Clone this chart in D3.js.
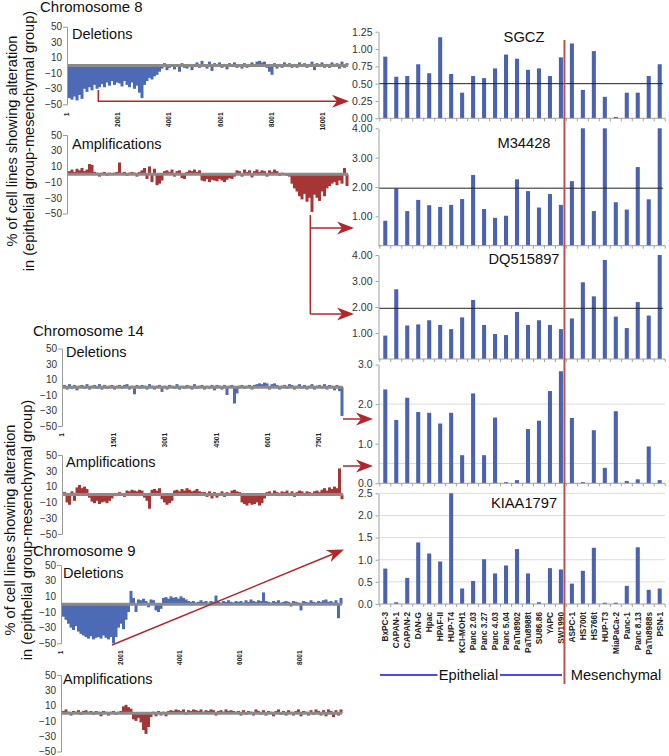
<!DOCTYPE html>
<html><head><meta charset="utf-8">
<script src="https://cdn.jsdelivr.net/npm/d3@7"></script>
<style>body{margin:0;background:#fff}svg{display:block;font-family:"Liberation Sans",Arial,sans-serif}</style>
</head><body>
<svg id="c" width="669" height="756"></svg>
<script>
// ---------- DATA ----------
const categories = ["BxPC-3","CAPAN-1","CAPAN-2","DAN-G","Hpac","HPAF-II","HUP-T4","KCI-MOH1","Panc 2.03","Panc 3.27","Panc 4.03","Panc 5.04","PaTu8902","PaTu8988t","SU86.86","YAPC","SW1990","ASPC-1","HS700t","HS766t","HUP-T3","MiaPaCa-2","Panc-1","Panc 8.13","PaTu8988s","PSN-1"];
const sgcz     = [0.89,0.60,0.61,0.78,0.65,1.17,0.64,0.37,0.61,0.58,0.72,0.92,0.86,0.70,0.72,0.61,0.88,1.08,0.41,0.97,0.31,0.02,0.37,0.37,0.61,0.78];
const m34428   = [0.85,1.95,1.18,1.56,1.38,1.32,1.39,1.59,2.41,1.25,0.95,1.02,2.26,1.86,1.30,1.76,1.39,2.20,4.00,1.18,4.00,1.48,1.23,2.68,1.58,4.00];
const dq515897 = [0.90,2.68,1.29,1.33,1.49,1.31,1.15,1.60,2.27,1.31,0.96,0.92,1.81,1.31,1.49,1.31,1.15,1.56,2.95,2.41,3.81,1.63,1.19,2.19,1.67,4.00];
const chr14Gene= [2.37,1.60,2.16,1.80,1.78,1.51,1.78,0.71,2.27,0.71,1.66,0.03,0.08,1.37,1.58,2.33,2.83,1.65,0.03,1.34,0.39,1.82,0.06,0.10,0.93,0.08];
const kiaa1797 = [0.80,0.04,0.59,1.39,1.14,0.96,2.50,0.35,0.52,1.01,0.69,0.87,1.24,0.69,0.04,0.81,0.78,0.46,0.75,1.27,0.03,0.03,0.41,1.28,0.32,0.35];

// genome profiles (binned, % epithelial - % mesenchymal)
const chr8Del = [-42,-44,-40,-45,-38,-43, -30,-34,-28,-32,-25,-30,-28, -24,-28,-22,-26,-20,-25,-22, -23,-27,-20,-25,-28,-22,-30, -26,-35,-42,-25,-20, -16,-18,-14,-12,-8,
  -4,3,-6,-3,2,-5,-2,-8,3,-3,-4,2,-6,-2,
  4,-3,6,-2,-4,5,-7,3,-2,4,-3,2,-5,3,-2,4,-3,2,-4,3,
  -3,2,4,-2,5,6,4,5,-3,-8,-12,3,-4,2,-3,4,-2,3,-3,2,
  -3,4,-2,3,-3,2,5,-6,3,-2,4,-3,2,-3,4,-2,3,-4,5,-3,3];
const chr8Amp = [4,6,3,7,5,8,4,6,13,12, 3,2,-3,2,3,-2,2,1,2,3,15, 2,3,-2,2,3,2,-3,3,5, 8,-6,10,-10,7,-14,-12,-8,
  4,5,3,6,-3,4,5,-5,-6,3,5,4,6,3,5,
  -8,-9,-6,-10,-7,-8,-9,-6,-8,-10,-7,-5,-6,-3,
  5,4,-3,6,3,5,-4,4,6,3,5,4,-3,5,3,6,4,-2,2,1,-2,-3,
  -12,-18,-22,-28,-32,-25,-35,-30,-48,-26,-30,-34,-22,-28,-18,-15,-12,-10,-14,-8,-12,8,-15];
const chr14Del = [3,-3,4,-2,3,-4,2,3,-2,4,-3,2,3,-2,4,-3,3,-2,2,3,
  -3,2,3,-2,3,4,-3,2,-9,3,-2,3,2,-3,4,2,-3,2,3,-6,
  2,-3,3,2,-2,4,-3,2,-2,3,2,-3,4,-2,2,3,-3,2,-2,3,
  -4,3,2,-3,3,-10,2,3,-21,-8,2,3,-2,2,3,-3,3,4,5,4,
  6,5,-3,4,5,3,-3,2,3,-2,4,3,-3,2,4,-2,3,-3,2,4,
  -3,2,3,-2,4,-3,3,2,-4,3,-5,-37];
const chr14Amp = [3,-10,-13,4,-8,9,12,8,10,7,-4, -9,-11,-8,-12,-10,-9,-11,-8,-5, 2,-2,3,2,-3, 5,4,6,5,4,6,5,-4,
  -8,-18,6,7,5,8,-6, -10,-13,-11,-8, 5,6,4,7,5,8,6,4,5,7,4,3,
  3,-3,4,-5,3,-4,2,4,-3,3,2,5,6,4,3, -10,-12,-14,-11,-13,-12,-10,-14,-11,-5,
  3,4,2,5,3,-2,4,3,5,2,4,-3,3,5,4,2,4,3,-2,4,5,3, 6,8,5,9,7,10,8,33,-6];
const chr9Del = [-16,-20,-25, -30,-33,-28,-35,-38,-40, -42,-44,-41,-45,-43,-42,-44,-40,-43,-45,-42, -50,-42, -30,-25,-32,-20,-10,
  17,8,-10,6, 5,7,4,-4,6,5,-8,-10,-6, 8,9,7,10,8,9,7,10,8,6,4,
  3,4,2,3,5,3,4,2,4,3,11,3,2,4,3,5,3,2,4,3,
  4,2,5,3,6,4,3,5,4,15,4,3,2,4,3,5,2,3,4,3,
  -3,4,3,2,-8,4,3,2,5,3,2,4,3,5,6,3,4,2,5,-18,8];
const chr9Amp = [3,5,2,-3,3,2,4,-2,3,4,2,3,-2,3,2,-4,3,2,-3,2,3,-2,2,3, 9,11,8,6, -8,-10,-6,-12, -22,-27,-18,-5,
  2,-4,3,-3,2,-4,3,
  4,3,5,4,3,5,-2,4,3,5,4,3,5,2,4,3,5,4,-3,3,4,2,5,3,4,3,2,
  3,-3,4,-2,3,2,-3,5,3,-2,4,-3,3,2,-4,3,5,-2,3,-3,4,2,-3,3,5,-4,3,2,-3,4,-2,5,3,-3,4,-4,5,3,-5,4,-3,5];

const profileYTicks = [50,30,10,-10,-30,-50];
const chr8Ticks  = [1,2001,4001,6001,8001,10001];
const chr14Ticks = [1,1501,3001,4501,6001,7501];
const chr9Ticks  = [1,2001,4001,6001,8001];

// ---------- DRAW ----------
const svg = d3.select("#c");
const DEL = "#4d6bb5", AMP = "#a63636", RED = "#b3262a";

function profile(p){
  const g = svg.append("g");
  const w = 281;
  const y = d3.scaleLinear().domain([-50,50]).range([p.yBot,p.yTop]);
  const xp = d3.scaleLinear().domain([1,p.n]).range([p.x0,p.x0+w]);
  const xb = d3.scaleLinear().domain([0,p.data.length]).range([p.x0+1,p.x0+w]);
  g.selectAll("rect").data(p.data).join("rect")
    .attr("x",(d,i)=>xb(i)).attr("width",(d,i)=>xb(i+1)-xb(i)+0.5)
    .attr("y",d=>y(Math.max(0,d))).attr("height",d=>Math.abs(y(d)-y(0)))
    .attr("fill",p.color);
  g.append("line").attr("x1",p.x0).attr("x2",p.x0+w).attr("y1",y(0)).attr("y2",y(0))
    .attr("stroke","#8a8a8a").attr("stroke-width",3);
  const ag = g.append("g").attr("transform",`translate(${p.x0},0)`)
    .call(d3.axisLeft(y).tickValues(profileYTicks).tickSizeInner(0).tickSizeOuter(4).tickPadding(5));
  ag.select(".domain").attr("stroke","#9a9a9a");
  ag.selectAll("text").attr("font-size",10).attr("fill","#333").attr("font-family","Liberation Sans, Arial, sans-serif");
  g.append("text").attr("x",p.lx).attr("y",p.ly).attr("font-size",14.5).attr("fill","#111").text(p.label);
  if(p.ticks){
    g.selectAll(".xt").data(p.ticks).join("text")
      .attr("transform",d=>`translate(${xp(d)},${p.tt}) rotate(-90)`)
      .attr("text-anchor","end").attr("dy","0.35em")
      .attr("font-family","Liberation Sans Narrow, Arial Narrow, sans-serif")
      .attr("font-weight","bold").attr("font-size",6.5).attr("fill","#222").text(d=>d);
  }
}

// chromosome titles
[["Chromosome 8",40,12],["Chromosome 14",33,336],["Chromosome 9",33,556]].forEach(t=>{
  svg.append("text").attr("x",t[1]).attr("y",t[2]).attr("font-size",15).attr("fill","#111").text(t[0]);
});

profile({x0:67,yTop:26.7,yBot:104.3,data:chr8Del,color:DEL,label:"Deletions",lx:72,ly:38.5,n:11000,ticks:chr8Ticks,tt:112.5});
profile({x0:67,yTop:135,yBot:213.5,data:chr8Amp,color:AMP,label:"Amplifications",lx:72,ly:148.5,n:11000});
profile({x0:62,yTop:348.5,yBot:426,data:chr14Del,color:DEL,label:"Deletions",lx:66,ly:357,n:8200,ticks:chr14Ticks,tt:433});
profile({x0:62,yTop:455,yBot:534,data:chr14Amp,color:AMP,label:"Amplifications",lx:66,ly:466.5,n:8200});
profile({x0:61,yTop:565,yBot:643.3,data:chr9Del,color:DEL,label:"Deletions",lx:63,ly:578,n:9430,ticks:chr9Ticks,tt:650.5});
profile({x0:61,yTop:675,yBot:751.5,data:chr9Amp,color:AMP,label:"Amplifications",lx:63,ly:683.5,n:9430});

// y-axis titles
[[141,17,34],[530,15,32]].forEach(a=>{
  svg.append("text").attr("transform",`translate(${a[1]},${a[0]}) rotate(-90)`).attr("text-anchor","middle")
    .attr("font-size",14.6).attr("fill","#111").text("% of cell lines showing alteration");
  svg.append("text").attr("transform",`translate(${a[2]},${a[0]}) rotate(-90)`).attr("text-anchor","middle")
    .attr("font-size",14.6).attr("fill","#111").text("in (epithelial group-mesenchymal group)");
});

// ---------- right bar panels ----------
const xBand = d3.scaleBand().domain(categories).range([379.8,665.2]).paddingInner(0.63).paddingOuter(0.315);
const step = xBand.step();
const BAR = "#4a62b0";
function barPanel(p){
  const g = svg.append("g");
  const y = d3.scaleLinear().domain([0,p.max]).range([p.y0,p.y1]);
  (p.grid||[]).forEach(v=>{
    g.append("line").attr("x1",379).attr("x2",665).attr("y1",y(v)).attr("y2",y(v)).attr("stroke","#dcdcdc");
  });
  g.selectAll("rect").data(p.data).join("rect")
    .attr("x",(d,i)=>xBand(categories[i])).attr("width",xBand.bandwidth())
    .attr("y",d=>y(d)).attr("height",d=>y(0)-y(d)).attr("fill",BAR);
  if(p.ref!==undefined){
    g.append("line").attr("x1",379).attr("x2",663).attr("y1",y(p.ref)).attr("y2",y(p.ref)).attr("stroke","#222").attr("stroke-width",1);
  }
  g.append("line").attr("x1",378.5).attr("x2",665).attr("y1",y(0)).attr("y2",y(0)).attr("stroke","#a0a0a0");
  g.selectAll(".bt").data(d3.range(categories.length+1)).join("line")
    .attr("x1",i=>379.8+i*step).attr("x2",i=>379.8+i*step).attr("y1",y(0)).attr("y2",y(0)+3).attr("stroke","#a0a0a0");
  const ag = g.append("g").attr("transform","translate(378.5,0)")
    .call(d3.axisLeft(y).tickValues(p.ticks).tickFormat(d3.format(p.fmt)).tickSizeInner(3).tickSizeOuter(0).tickPadding(3));
  ag.select(".domain").attr("stroke","#a0a0a0");
  ag.selectAll("line").attr("stroke","#a0a0a0");
  ag.selectAll("text").attr("font-size",10.5).attr("fill","#333").attr("font-family","Liberation Sans, Arial, sans-serif");
  if(p.title){
    g.append("text").attr("x",524).attr("y",p.ty).attr("text-anchor","middle").attr("font-size",14.7).attr("fill","#111").text(p.title);
  }
}
barPanel({data:sgcz,max:1.25,y0:118.3,y1:31.7,ticks:[0,0.25,0.5,0.75,1,1.25],fmt:".2f",title:"SGCZ",ty:41.7,ref:0.5});
barPanel({data:m34428,max:4,y0:245.7,y1:128.3,ticks:[1,2,3,4],fmt:".2f",title:"M34428",ty:148.3,ref:1.96});
barPanel({data:dq515897,max:4,y0:359,y1:255,ticks:[1,2,3,4],fmt:".2f",title:"DQ515897",ty:263.5,ref:1.95});
barPanel({data:chr14Gene,max:3,y0:483.3,y1:364.5,ticks:[0,1,2,3],fmt:".1f",grid:[0.5,2]});
barPanel({data:kiaa1797,max:2.5,y0:604,y1:493.3,ticks:[0,0.5,1,1.5,2,2.5],fmt:".1f",grid:[0.5,1,1.5,2,2.5],title:"KIAA1797",ty:508.3});

// category labels
svg.selectAll(".cl").data(categories).join("text")
  .attr("transform",d=>`translate(${xBand(d)+xBand.bandwidth()/2},612) rotate(-90)`)
  .attr("text-anchor","end").attr("dy","0.35em").attr("font-size",8.3).attr("font-weight","bold")
  .attr("fill","#222").text(d=>d);

// divider line
const divX = xBand("SW1990")+xBand.bandwidth()+1.5;
svg.append("line").attr("x1",divX).attr("x2",divX).attr("y1",40).attr("y2",684).attr("stroke","#c0504d").attr("stroke-width",2);

// group labels
const BLUE = "#4b4be6";
svg.append("line").attr("x1",380).attr("x2",437.5).attr("y1",675).attr("y2",675).attr("stroke",BLUE).attr("stroke-width",2.2);
svg.append("line").attr("x1",500).attr("x2",562).attr("y1",675).attr("y2",675).attr("stroke",BLUE).attr("stroke-width",2.2);
svg.append("text").attr("x",468.5).attr("y",680).attr("text-anchor","middle").attr("font-size",14.7).attr("fill","#111").text("Epithelial");
svg.append("text").attr("x",616).attr("y",680).attr("text-anchor","middle").attr("font-size",14.7).attr("fill","#111").text("Mesenchymal");

// ---------- arrows (annotations) ----------
function arrow(points, tip){
  const line = d3.line();
  svg.append("path").attr("d",line(points)).attr("fill","none").attr("stroke",RED).attr("stroke-width",1.5);
  if(tip){
    const last = points[points.length-1];
    const ang = Math.atan2(tip[1]-last[1], tip[0]-last[0])*180/Math.PI;
    svg.append("path").attr("d","M0,0 L-17,-6.5 L-12,0 L-17,6.5 Z")
      .attr("transform",`translate(${tip[0]},${tip[1]}) rotate(${ang})`).attr("fill",RED);
  }
}
arrow([[98.3,90],[98.3,101.3],[338,101.3]],[349,101.3]);
arrow([[310.3,215],[310.3,314]]);
arrow([[310.3,228],[342,228]],[354,228]);
arrow([[310.3,314],[342,314]],[354,314]);
arrow([[343,419],[362,419]],[373,419]);
arrow([[343,466],[362,466]],[373,466]);
arrow([[112,645],[333,554]],[344,549.5]);
</script>
</body></html>
